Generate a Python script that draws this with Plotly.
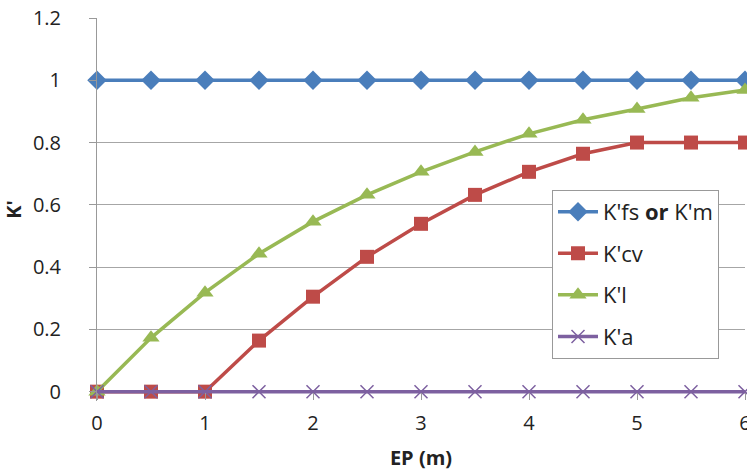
import plotly.graph_objects as go

ep = [0, 0.5, 1, 1.5, 2, 2.5, 3, 3.5, 4, 4.5, 5, 5.5, 6]
k_fs = [1, 1, 1, 1, 1, 1, 1, 1, 1, 1, 1, 1, 1]
k_cv = [0, 0, 0, 0.164, 0.305, 0.433, 0.539, 0.632, 0.706, 0.764, 0.8, 0.8, 0.8]
k_l = [0, 0.173, 0.318, 0.443, 0.546, 0.632, 0.706, 0.770, 0.828, 0.873, 0.908, 0.944, 0.969]
k_a = [0, 0, 0, 0, 0, 0, 0, 0, 0, 0, 0, 0, 0]

names = ["K'fs <b>or</b> K'm", "K'cv", "K'l", "K'a"]
colors = ["#4a7ebb", "#be4b48", "#98b954", "#7d60a0"]
symbols = ["diamond", "square", "triangle-up", "x-thin"]
sizes = [15, 14, 15, 13]
series = [k_fs, k_cv, k_l, k_a]

FONT = "Open Sans"
FS = 20
W, H = 747, 472
Y_LO = -0.03
Y_HI = 1.2
PX_PER_UNIT = 311.67
TOP = 18
LEFT = 97
plot_h = (Y_HI - Y_LO) * PX_PER_UNIT
plot_w = 648
bottom_margin = H - TOP - plot_h
right_margin = W - LEFT - plot_w

fig = go.Figure()
for i, (nm, c, s, sz, ys) in enumerate(zip(names, colors, symbols, sizes, series)):
    marker = dict(symbol=s, size=sz, color=c)
    if s == "x-thin":
        marker["line"] = dict(color=c, width=1.5)
    fig.add_trace(go.Scatter(
        x=ep, y=ys, name=nm, mode="lines+markers",
        line=dict(color=c, width=3.5), marker=marker,
        legendgroup=f"g{i}", cliponaxis=False,
    ))

zero_pos = (0 - Y_LO) / (Y_HI - Y_LO)

fig.update_layout(
    width=W, height=H,
    margin=dict(l=LEFT, r=right_margin, t=TOP, b=bottom_margin, autoexpand=False),
    paper_bgcolor="white", plot_bgcolor="white",
    font=dict(family=FONT, size=FS, color="#222"),
    showlegend=True,
    legend=dict(
        x=(552 - LEFT) / plot_w, y=(TOP + plot_h - 190) / plot_h,
        xanchor="left", yanchor="top",
        bordercolor="#999", borderwidth=1, bgcolor="white",
        font=dict(family=FONT, size=22, color="#222"),
        tracegroupgap=10, itemwidth=40,
    ),
    xaxis=dict(
        range=[0, 6], tickvals=[0, 1, 2, 3, 4, 5, 6],
        anchor="free", position=zero_pos, automargin=False,
        showgrid=False, zeroline=False, showline=False,
        ticks="outside", ticklen=7, tickcolor="#999",
        tickfont=dict(size=FS), ticklabelstandoff=6,
        ticklabeloverflow="allow",
        title=dict(text="<b>EP (m)</b>", font=dict(size=FS), standoff=16),
    ),
    yaxis=dict(
        range=[Y_LO, Y_HI], tickvals=[0, 0.2, 0.4, 0.6, 0.8, 1, 1.2],
        ticktext=["0", "0.2", "0.4", "0.6", "0.8", "1", "1.2"],
        automargin=True,
        showgrid=True, gridcolor="#a6a6a6", gridwidth=1,
        zeroline=False, showline=True, linecolor="#999", linewidth=1,
        ticks="outside", ticklen=7, tickcolor="#999",
        tickfont=dict(size=FS), ticklabelstandoff=24,
        ticklabeloverflow="allow",
        title=dict(text="<b>K'</b>", font=dict(size=FS), standoff=10),
    ),
)

fig.write_html(
    "out.html",
    config={"displayModeBar": False},
    post_script="document.body.style.margin='0';document.body.style.overflow='hidden';",
)
